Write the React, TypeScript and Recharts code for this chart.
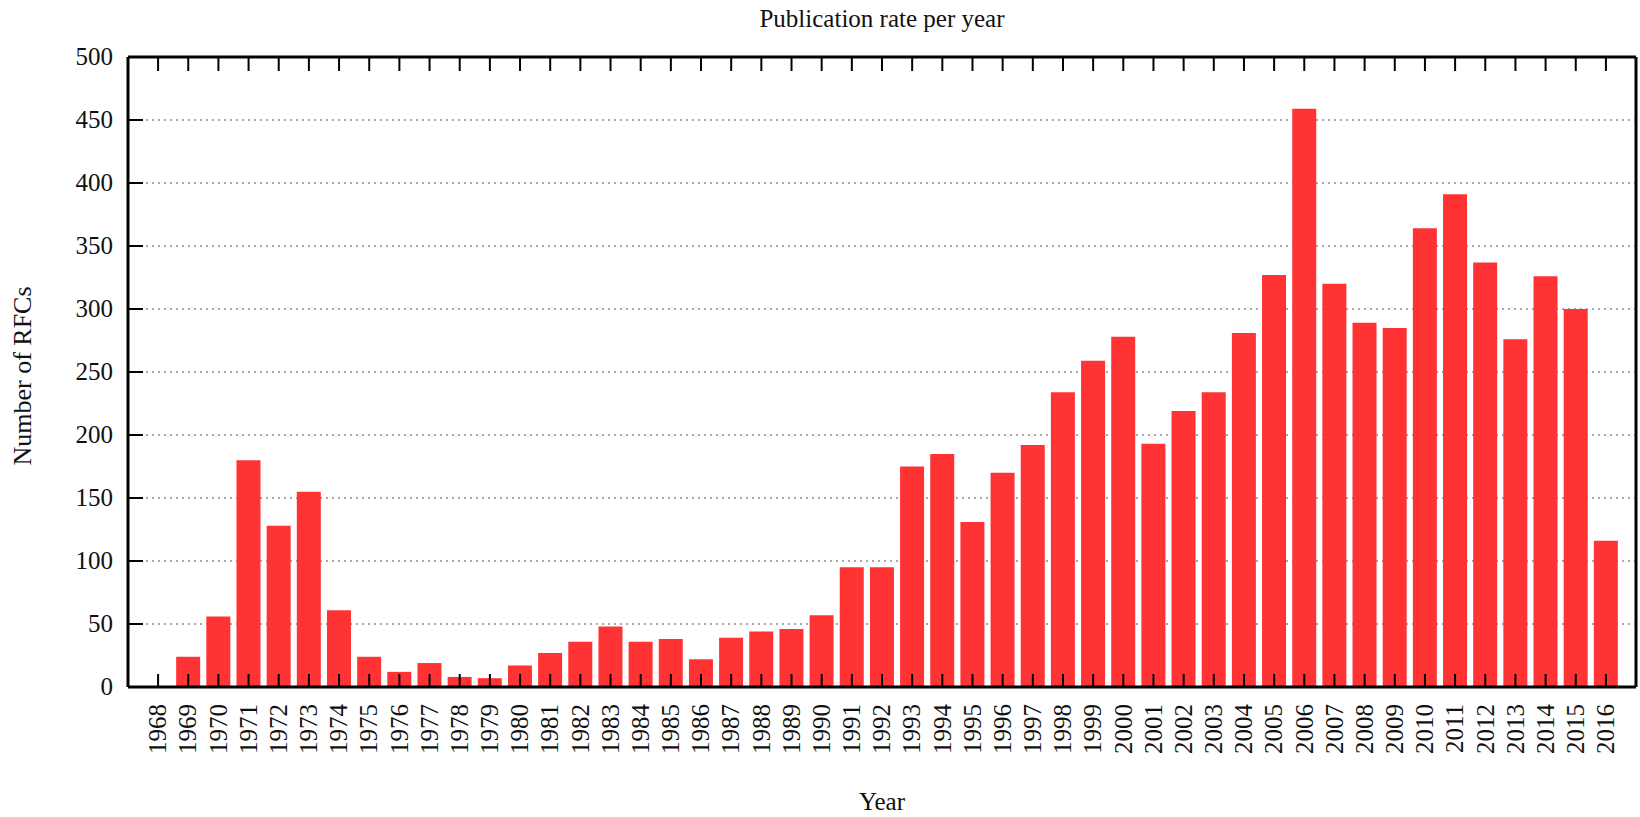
import { BarChart, Bar, XAxis, YAxis, CartesianGrid } from "recharts"

// years on the x axis
const years = [
  "1968", "1969", "1970", "1971", "1972", "1973", "1974", "1975", "1976", "1977",
  "1978", "1979", "1980", "1981", "1982", "1983", "1984", "1985", "1986", "1987",
  "1988", "1989", "1990", "1991", "1992", "1993", "1994", "1995", "1996", "1997",
  "1998", "1999", "2000", "2001", "2002", "2003", "2004", "2005", "2006", "2007",
  "2008", "2009", "2010", "2011", "2012", "2013", "2014", "2015", "2016",
]

// RFCs published per year
const rfcCounts = [
  0, 24, 56, 180, 128, 155, 61, 24, 12, 19,
  8, 7, 17, 27, 36, 48, 36, 38, 22, 39,
  44, 46, 57, 95, 95, 175, 185, 131, 170, 192,
  234, 259, 278, 193, 219, 234, 281, 327, 459, 320,
  289, 285, 364, 391, 337, 276, 326, 300, 116,
]

const yTicks = [0, 50, 100, 150, 200, 250, 300, 350, 400, 450, 500]

const data = years.map((year, i) => ({ year, count: rfcCounts[i] }))

const W = 1640
const H = 817
const PLOT = { top: 57, bottom: 687, left: 128, right: 1636 }
const FONT = '"Liberation Serif", "DejaVu Serif", serif'
const INK = "#111"

function YearTick({ x, payload }: any) {
  const ty = 704
  return (
    <g>
      <line x1={x} y1={PLOT.bottom} x2={x} y2={PLOT.bottom - 13} stroke="#000" strokeWidth={2} />
      <text
        x={x}
        y={ty}
        dy="0.33em"
        transform={`rotate(-90, ${x}, ${ty})`}
        textAnchor="end"
        fontSize={25}
        fontFamily={FONT}
        fill={INK}
      >
        {payload.value}
      </text>
    </g>
  )
}

function TopTick({ x }: any) {
  return <line x1={x} y1={PLOT.top} x2={x} y2={PLOT.top + 14} stroke="#000" strokeWidth={2} />
}

function LeftTick({ y, payload }: any) {
  return (
    <g>
      <line x1={PLOT.left} y1={y} x2={PLOT.left + 15} y2={y} stroke="#000" strokeWidth={2} />
      <text x={113} y={y} dy="0.33em" textAnchor="end" fontSize={25} fontFamily={FONT} fill={INK}>
        {payload.value}
      </text>
    </g>
  )
}

function RightTick({ y }: any) {
  return <line x1={PLOT.right} y1={y} x2={PLOT.right - 15} y2={y} stroke="#000" strokeWidth={2} />
}

export default function App() {
  const frame = { stroke: "#000", strokeWidth: 3 }
  return (
    <div style={{ position: "absolute", left: 0, top: 0, width: W, height: H, background: "#fff" }}>
      <BarChart
        width={W}
        height={H}
        data={data}
        margin={{ top: PLOT.top - 1, right: W - PLOT.right - 1, left: 0, bottom: 0 }}
      >
        <CartesianGrid vertical={false} stroke="#555" strokeDasharray="2 4" strokeWidth={1.2} />
        <XAxis
          dataKey="year"
          height={H - PLOT.bottom}
          interval={0}
          padding={{ left: 15, right: 15 }}
          axisLine={frame}
          tickLine={false}
          tick={<YearTick />}
        />
        <XAxis
          xAxisId="top"
          dataKey="year"
          orientation="top"
          height={1}
          interval={0}
          padding={{ left: 15, right: 15 }}
          axisLine={frame}
          tickLine={false}
          tick={<TopTick />}
        />
        <YAxis
          type="number"
          domain={[0, 500]}
          ticks={yTicks}
          interval={0}
          width={PLOT.left}
          axisLine={frame}
          tickLine={false}
          tick={<LeftTick />}
        />
        <YAxis
          yAxisId="right"
          orientation="right"
          type="number"
          domain={[0, 500]}
          ticks={yTicks}
          interval={0}
          width={1}
          axisLine={frame}
          tickLine={false}
          tick={<RightTick />}
        />
        <Bar dataKey="count" fill="#ff3333" barSize={24} isAnimationActive={false} />
      </BarChart>
      <svg
        width={W}
        height={H}
        style={{ position: "absolute", left: 0, top: 0, pointerEvents: "none" }}
      >
        <text x={882} y={27} textAnchor="middle" fontSize={25} fontFamily={FONT} fill={INK}>
          Publication rate per year
        </text>
        <text x={882} y={810} textAnchor="middle" fontSize={25} fontFamily={FONT} fill={INK}>
          Year
        </text>
        <text
          x={31}
          y={376}
          transform="rotate(-90, 31, 376)"
          textAnchor="middle"
          fontSize={26}
          fontFamily={FONT}
          fill={INK}
        >
          Number of RFCs
        </text>
      </svg>
    </div>
  )
}
